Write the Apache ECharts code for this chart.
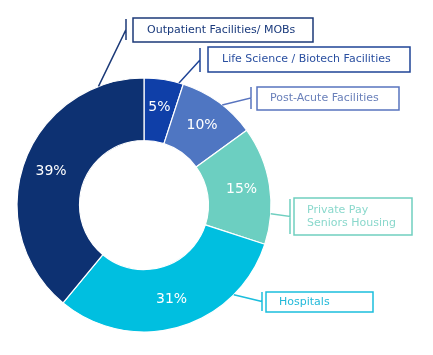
<!DOCTYPE html>
<html>
<head>
<meta charset="utf-8">
<style>
html,body{margin:0;padding:0;background:#fff;}
#chart{width:433px;height:355px;}
</style>
<script src="https://cdn.jsdelivr.net/npm/echarts@6/dist/echarts.min.js"></script>
</head>
<body>
<div id="chart"></div>
<script>
// ---- data ----
const categories = ['Life Science / Biotech Facilities', 'Post-Acute Facilities', 'Private Pay\nSeniors Housing', 'Hospitals', 'Outpatient Facilities/ MOBs'];
const shares = [5, 10, 15, 31, 39];

// ---- styles ----
const sectorColors = ['#0f3fa8', '#4f76c2', '#6ccfc1', '#00bfe0', '#0d3172'];
const boxColors = ['#1f4496', '#5874bf', '#70cfc0', '#1bbedd', '#1c3a78'];
const textColors = ['#2a4fa0', '#6a80ba', '#8ad8cc', '#22b9d9', '#1a3a7c'];
// label box placement (px) and leader anchor angle on outer arc (deg, clockwise from top)
const labelBoxes = [
  {x: 208, y: 47, w: 202, pad: [6, 0, 6, 14], barX: 200, barT: 48, barB: 72, ang: 16},
  {x: 257, y: 87, w: 142, pad: [5, 0, 5, 13], barX: 251, barT: 87, barB: 109, ang: 38},
  {x: 294, y: 198, w: 118, pad: [6, 0, 5, 13], barX: 290, barT: 199, barB: 234, ang: 94},
  {x: 266, y: 292, w: 107, pad: [4, 0, 3, 13], barX: 262, barT: 292, barB: 311, ang: 135},
  {x: 133, y: 18, w: 180, pad: [6, 0, 5, 14], barX: 126, barT: 19, barB: 40, ang: 339}
];
const CX = 144, CY = 205, R0 = 64.5, R1 = 127;

const chart = echarts.init(document.getElementById('chart'), null, {renderer: 'canvas'});

const baseData = categories.map((c, i) => ({name: c, value: shares[i]}));

const option = {
  animation: false,
  series: [
    {
      type: 'pie',
      center: [CX, CY],
      radius: [R0, R1],
      startAngle: 90,
      clockwise: true,
      avoidLabelOverlap: false,
      silent: true,
      itemStyle: {borderColor: '#ffffff', borderWidth: 1.2},
      label: {
        show: true,
        position: 'inside',
        color: '#ffffff',
        fontFamily: 'DejaVu Sans',
        fontSize: 14,
        formatter: p => p.value + '%'
      },
      labelLine: {show: false},
      data: baseData.map((d, i) => ({name: d.name, value: d.value, itemStyle: {color: sectorColors[i]}}))
    },
    {
      type: 'pie',
      center: [CX, CY],
      radius: [R0, R1],
      startAngle: 90,
      clockwise: true,
      avoidLabelOverlap: false,
      silent: true,
      z: 3,
      itemStyle: {color: 'rgba(0,0,0,0)', borderWidth: 0},
      label: {
        show: true,
        position: 'outside',
        fontFamily: 'DejaVu Sans',
        fontSize: 11,
        lineHeight: 13,
        borderWidth: 1.5,
        align: 'left',
        formatter: p => p.name
      },
      labelLine: {show: true, length: 10, length2: 10, lineStyle: {width: 1.5}},
      labelLayout: function (params) {
        const L = labelBoxes[params.dataIndex];
        const a = L.ang * Math.PI / 180;
        const sx = CX + R1 * Math.sin(a);
        const sy = CY - R1 * Math.cos(a);
        const mid = (L.barT + L.barB) / 2;
        return {
          x: L.x, y: L.y, align: 'left', verticalAlign: 'top',
          labelLinePoints: [[sx, sy], [L.barX, mid], [L.barX, L.barT], [L.barX, L.barB]]
        };
      },
      data: baseData.map((d, i) => ({
        name: d.name, value: d.value,
        label: {
          color: textColors[i],
          borderColor: boxColors[i],
          width: labelBoxes[i].w - labelBoxes[i].pad[3],
          padding: labelBoxes[i].pad
        },
        labelLine: {lineStyle: {color: boxColors[i]}}
      }))
    }
  ]
};
chart.setOption(option);
</script>
</body>
</html>
